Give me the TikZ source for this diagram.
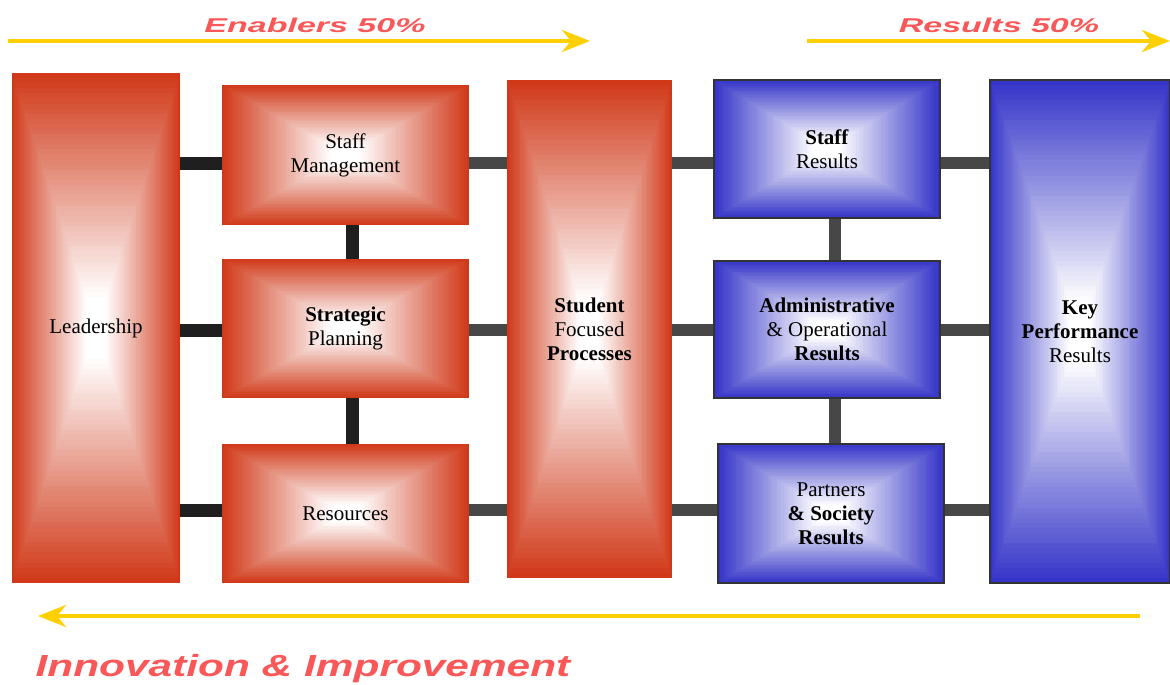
\documentclass[tikz,border=0pt]{standalone}
\usepackage{fontspec}
\usepackage{graphicx}
\setmainfont{Liberation Serif}
\newfontfamily\labelfont{Liberation Sans}
\usetikzlibrary{calc,arrows.meta}
\definecolor{redE}{RGB}{208,56,24}
\definecolor{blueE}{RGB}{52,52,200}
\definecolor{arrowY}{RGB}{255,208,0}
\definecolor{salmon}{RGB}{250,88,88}
\tikzset{
 pillow/.style={path picture={
   \foreach \i in {0,...,50}{
     \pgfmathtruncatemacro\p{max(0,100-100*\i/44)}
     \fill[#1!\p!white] ($(path picture bounding box.south west)!\i/100!(path picture bounding box.north east)$) rectangle ($(path picture bounding box.north east)!\i/100!(path picture bounding box.south west)$);
   }}},
 box/.style={rectangle, inner sep=0pt, align=center, font=\fontsize{21}{24}\selectfont},
 redbox/.style={box, pillow=redE},
 bluebox/.style={box, pillow=blueE, draw=black!80, line width=1.5pt},
 bar/.style={line width=13pt, draw=black!88},
 barg/.style={line width=12pt, draw=black!72},
 yarrow/.style={draw=arrowY, line width=4.5pt, -{Stealth[length=28pt,width=22pt,inset=9pt]}},
 banner/.style={font=\labelfont\bfseries\itshape, text=salmon, inner sep=0pt},
}
\begin{document}
\begin{tikzpicture}[x=1pt,y=-1pt]
\useasboundingbox (0,0) rectangle (1170,685);
% boxes
\node[redbox, minimum width=168pt, minimum height=510pt] (lead) at (96,328) {Leadership};
\node[redbox, minimum width=247pt, minimum height=140pt] (sm) at (345.5,155) {Staff\\Management};
\node[redbox, minimum width=247pt, minimum height=139pt] (sp) at (345.5,328.5) {\textbf{Strategic}\\Planning};
\node[redbox, minimum width=247pt, minimum height=139pt] (res) at (345.5,513.5) {Resources};
\node[redbox, minimum width=165pt, minimum height=498pt] (sfp) at (589.5,329) {\textbf{Student}\\Focused\\\textbf{Processes}};
\node[bluebox, minimum width=226pt, minimum height=138pt] (sr) at (827,149) {\textbf{Staff}\\Results};
\node[bluebox, minimum width=226pt, minimum height=137pt] (aor) at (827,329.5) {\textbf{Administrative}\\\& Operational\\\textbf{Results}};
\node[bluebox, minimum width=226pt, minimum height=139pt] (psr) at (831,513.5) {Partners\\\textbf{\& Society}\\\textbf{Results}};
\node[bluebox, minimum width=180pt, minimum height=503pt] (kpr) at (1080,331.5) {\textbf{Key}\\\textbf{Performance}\\Results};
% rows and columns of connectors
\coordinate (r1) at (0,163);
\coordinate (r2) at (0,330);
\coordinate (r3) at (0,510);
\coordinate (c1) at (352,0);
\coordinate (c2) at (835,0);
\draw[bar] (lead.east |- r1) -- (sm.west |- r1);
\draw[bar] (lead.east |- r2) -- (sp.west |- r2);
\draw[bar] (lead.east |- r3) -- (res.west |- r3);
\draw[barg] (sm.east |- r1) -- (sfp.west |- r1);
\draw[barg] (sp.east |- r2) -- (sfp.west |- r2);
\draw[barg] (res.east |- r3) -- (sfp.west |- r3);
\draw[barg] (sfp.east |- r1) -- (sr.west |- r1);
\draw[barg] (sfp.east |- r2) -- (aor.west |- r2);
\draw[barg] (sfp.east |- r3) -- (psr.west |- r3);
\draw[barg] (sr.east |- r1) -- (kpr.west |- r1);
\draw[barg] (aor.east |- r2) -- (kpr.west |- r2);
\draw[barg] (psr.east |- r3) -- (kpr.west |- r3);
\draw[bar] (sm.south -| c1) -- (sp.north -| c1);
\draw[bar] (sp.south -| c1) -- (res.north -| c1);
\draw[barg] (sr.south -| c2) -- (aor.north -| c2);
\draw[barg] (aor.south -| c2) -- (psr.north -| c2);
% arrows
\coordinate (e0) at (8,41);
\coordinate (e1) at (590,41);
\coordinate (s0) at (807,41);
\coordinate (s1) at (1170,41);
\coordinate (i0) at (1140,616);
\coordinate (i1) at (38,616);
\draw[yarrow] (e0) -- (e1);
\draw[yarrow] (s0) -- (s1);
\draw[yarrow] (i0) -- (i1);
% labels
\node[banner] (enab) at (315,25) {\scalebox{1.7}[1]{\fontsize{20}{20}\selectfont Enablers 50\%}};
\node[banner] (res50) at (999,25) {\scalebox{1.7}[1]{\fontsize{20}{20}\selectfont Results 50\%}};
\node[banner] (innov) at (303,669) {\scalebox{1.39}[1]{\fontsize{30.5}{32}\selectfont Innovation \& Improvement}};
\end{tikzpicture}
\end{document}
